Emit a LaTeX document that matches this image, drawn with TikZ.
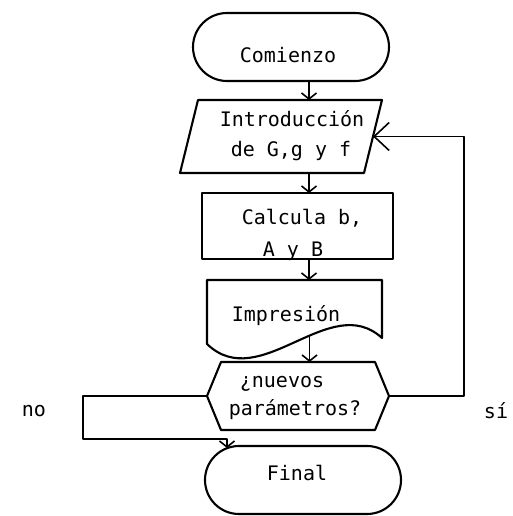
\documentclass[tikz,border=0pt]{standalone}
\usepackage{fontspec}
\newfontfamily\plotfont{DejaVu Sans Mono}
\usetikzlibrary{shapes.misc,arrows.meta}
\begin{document}
\begin{tikzpicture}[x=1pt,y=-1pt,line join=round,
  every node/.style={inner sep=0pt,outer sep=0pt},
  edgeline/.style={draw,line width=2.1pt},
  terminal/.style={edgeline,rounded rectangle,minimum width=196pt,minimum height=68pt},
  txt/.style={anchor=base,font=\plotfont\fontsize{20}{24}\selectfont},
  flowarrow/.style={line width=1.6pt,-{Straight Barb[length=6pt,width=15pt]}},
  backarrow/.style={line width=1.6pt,-{Straight Barb[length=15pt,width=28pt]}}]

\fill[white] (0,0) rectangle (512,516);
\useasboundingbox (0,0) rectangle (512,516);

% guide coordinates for the connectors
\coordinate (axis) at (309,0);
\coordinate (fb) at (464,0);
\coordinate (nox) at (83,439);

% start
\node[terminal] (start) at (291,47) {};
\node[txt] (tstart) at (288,63) {Comienzo};

% input (parallelogram)
\node[minimum width=184pt,minimum height=73pt] (in) at (281,136.5) {};
\draw[edgeline] ([xshift=9pt]in.north west) -- ([xshift=9pt]in.north east)
  -- ([xshift=-9pt]in.south east) -- ([xshift=-9pt]in.south west) -- cycle;
\node[txt] (tin1) at (292,126) {Introducción};
\node[txt] (tin2) at (291,156) {de G,g y f};

% process
\node[edgeline,minimum width=191pt,minimum height=66pt] (comp) at (297.5,226) {};
\node[txt] (tcomp1) at (302,224) {Calcula b,};
\node[txt] (tcomp2) at (293,256) {A y B};

% document (wavy bottom)
\node[minimum width=175pt,minimum height=64pt] (doc) at (294.5,312) {};
\draw[edgeline] (doc.south west) |- (doc.north east) -- ([yshift=6pt]doc.south east)
  .. controls +(-52,-48) and +(53,51) .. coordinate[pos=0.42] (docw) (doc.south west) -- cycle;
\node[txt] (tdoc) at (286,321) {Impresión};

% decision (hexagon)
\node[minimum width=182pt,minimum height=68pt] (hex) at (298,396) {};
\draw[edgeline] ([xshift=14pt]hex.north west) -- ([xshift=-14pt]hex.north east) -- (hex.east)
  -- ([xshift=-14pt]hex.south east) -- ([xshift=14pt]hex.south west) -- (hex.west) -- cycle;
\node[txt] (thex1) at (282,387) {¿nuevos};
\node[txt] (thex2) at (295,415) {parámetros?};

% end
\node[terminal] (fin) at (303,480) {};
\node[txt] (tfin) at (297,480) {Final};

% branch labels
\node[txt] (lno) at (34,416) {no};
\node[txt] (lsi) at (496,418) {sí};

% connectors
\draw[flowarrow] (start.south -| axis) -- (in.north -| axis);
\draw[flowarrow] (in.south -| axis) -- (comp.north -| axis);
\draw[flowarrow] (comp.south -| axis) -- (doc.north -| axis);
\draw[flowarrow] (docw) -- (docw |- hex.north);
\draw[backarrow] (hex.east) -- (hex.east -| fb) |- (in.east);
\draw[flowarrow] (hex.west) -| (nox) -| ([xshift=-76pt,yshift=-2pt]fin.north);

\end{tikzpicture}
\end{document}
